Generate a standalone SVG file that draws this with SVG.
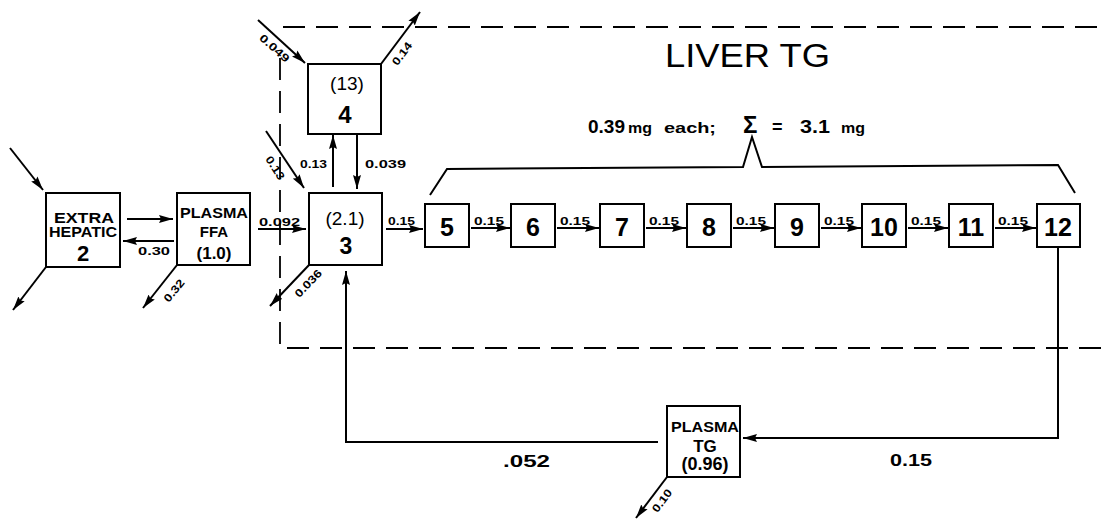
<svg xmlns="http://www.w3.org/2000/svg" width="1101" height="519" viewBox="0 0 1101 519">
<defs>
<style>
.box{fill:#fff;stroke:#000;stroke-width:2}
.ln{fill:none;stroke:#000;stroke-width:2}
.dash{fill:none;stroke:#000;stroke-width:1.8;stroke-dasharray:22 11}
text{font-family:"Liberation Sans",Arial,sans-serif;fill:#000}
.b{font-weight:bold}
.lbl{font-weight:bold;font-size:11px}
.big{font-weight:bold;font-size:25px;text-anchor:middle}
.mid{font-size:18px;text-anchor:middle}
.nm{font-weight:bold;font-size:14px;text-anchor:middle}
</style>
<marker id="ah" markerUnits="userSpaceOnUse" markerWidth="15" markerHeight="9" refX="14" refY="4.5" orient="auto">
<path d="M0,0.5 L14,4.5 L0,8.5 L2,4.5 z" fill="#000"/>
</marker>
</defs>
<rect width="1101" height="519" fill="#fff"/>

<g id="liver-region">
<path class="dash" d="M283,27 H1101"/>
<path class="dash" d="M280,58 V348 H1101"/>
<text x="665" y="67" font-size="33" textLength="165" lengthAdjust="spacingAndGlyphs">LIVER TG</text>
</g>

<g id="brace">
<path class="ln" d="M430,195 L447,169 L743,167 L752,137 L762,167 L1058,165 L1075,193"/>
<text class="b" y="133" font-size="18"><tspan x="588" textLength="37" lengthAdjust="spacingAndGlyphs">0.39</tspan><tspan x="628" font-size="15" textLength="24" lengthAdjust="spacingAndGlyphs">mg</tspan><tspan x="664" font-size="15" textLength="52" lengthAdjust="spacingAndGlyphs">each;</tspan><tspan x="743" font-size="24">Σ</tspan><tspan x="772">=</tspan><tspan x="800" textLength="30" lengthAdjust="spacingAndGlyphs">3.1</tspan><tspan x="841" font-size="15" textLength="24" lengthAdjust="spacingAndGlyphs">mg</tspan></text>
</g>

<g id="connectors">
<line class="ln" x1="10" y1="148" x2="43" y2="190" marker-end="url(#ah)"/>
<line class="ln" x1="46" y1="267" x2="13" y2="310" marker-end="url(#ah)"/>
<line class="ln" x1="127" y1="219" x2="173" y2="219" marker-end="url(#ah)"/>
<line class="ln" x1="174" y1="241" x2="123" y2="241" marker-end="url(#ah)"/>
<line class="ln" x1="177" y1="265" x2="143" y2="308" marker-end="url(#ah)"/>
<line class="ln" x1="258" y1="229" x2="306" y2="229" marker-end="url(#ah)"/>
<line class="ln" x1="266" y1="131" x2="304" y2="188" marker-end="url(#ah)"/>
<line class="ln" x1="309" y1="265" x2="270" y2="306" marker-end="url(#ah)"/>
<line class="ln" x1="333" y1="187" x2="333" y2="135" marker-end="url(#ah)"/>
<line class="ln" x1="357" y1="135" x2="357" y2="189" marker-end="url(#ah)"/>
<line class="ln" x1="258" y1="20" x2="305" y2="63" marker-end="url(#ah)"/>
<line class="ln" x1="381" y1="64" x2="420" y2="12" marker-end="url(#ah)"/>
<line class="ln" x1="386" y1="229" x2="423" y2="229" marker-end="url(#ah)"/>
<line class="ln" x1="471" y1="228" x2="510" y2="228" marker-end="url(#ah)"/>
<line class="ln" x1="557" y1="228" x2="599" y2="228" marker-end="url(#ah)"/>
<line class="ln" x1="646" y1="228" x2="686" y2="228" marker-end="url(#ah)"/>
<line class="ln" x1="733" y1="228" x2="774" y2="228" marker-end="url(#ah)"/>
<line class="ln" x1="821" y1="228" x2="861" y2="228" marker-end="url(#ah)"/>
<line class="ln" x1="908" y1="228" x2="948" y2="228" marker-end="url(#ah)"/>
<line class="ln" x1="995" y1="228" x2="1036" y2="228" marker-end="url(#ah)"/>
<path class="ln" d="M1058,247 V438 H743" marker-end="url(#ah)"/>
<path class="ln" d="M658,442 H346 V271" marker-end="url(#ah)"/>
<line class="ln" x1="667" y1="477" x2="636" y2="518" marker-end="url(#ah)"/>

<text class="lbl" x="138" y="255" textLength="32" lengthAdjust="spacingAndGlyphs">0.30</text>
<text class="lbl" x="259" y="226" textLength="41" lengthAdjust="spacingAndGlyphs">0.092</text>
<text class="lbl" x="300" y="168" textLength="27" lengthAdjust="spacingAndGlyphs">0.13</text>
<text class="lbl" x="365" y="168" textLength="41" lengthAdjust="spacingAndGlyphs">0.039</text>
<text class="lbl" x="388" y="225" textLength="27" lengthAdjust="spacingAndGlyphs">0.15</text>
<text class="lbl" x="474" y="225" textLength="30" lengthAdjust="spacingAndGlyphs">0.15</text>
<text class="lbl" x="560" y="225" textLength="30" lengthAdjust="spacingAndGlyphs">0.15</text>
<text class="lbl" x="649" y="225" textLength="30" lengthAdjust="spacingAndGlyphs">0.15</text>
<text class="lbl" x="736" y="225" textLength="30" lengthAdjust="spacingAndGlyphs">0.15</text>
<text class="lbl" x="824" y="225" textLength="30" lengthAdjust="spacingAndGlyphs">0.15</text>
<text class="lbl" x="911" y="225" textLength="30" lengthAdjust="spacingAndGlyphs">0.15</text>
<text class="lbl" x="998" y="225" textLength="30" lengthAdjust="spacingAndGlyphs">0.15</text>
<text class="lbl" text-anchor="middle" transform="translate(272,51) rotate(42)" textLength="36" lengthAdjust="spacingAndGlyphs">0.049</text>
<text class="lbl" text-anchor="middle" transform="translate(405,56) rotate(-53)" textLength="26" lengthAdjust="spacingAndGlyphs">0.14</text>
<text class="lbl" text-anchor="middle" transform="translate(272,170) rotate(57)" textLength="26" lengthAdjust="spacingAndGlyphs">0.13</text>
<text class="lbl" text-anchor="middle" transform="translate(311,286) rotate(-46)" textLength="34" lengthAdjust="spacingAndGlyphs">0.036</text>
<text class="lbl" text-anchor="middle" transform="translate(177,293) rotate(-51)" textLength="26" lengthAdjust="spacingAndGlyphs">0.32</text>
<text class="lbl" text-anchor="middle" transform="translate(665,503) rotate(-53)" textLength="26" lengthAdjust="spacingAndGlyphs">0.10</text>
<text class="b" x="503" y="467" font-size="17" textLength="47" lengthAdjust="spacingAndGlyphs">.052</text>
<text class="b" x="890" y="466" font-size="17" textLength="42" lengthAdjust="spacingAndGlyphs">0.15</text>
</g>

<g id="node-2">
<rect class="box" x="46" y="193" width="74" height="74"/>
<text class="nm" x="84" y="223" textLength="60" lengthAdjust="spacingAndGlyphs">EXTRA</text>
<text class="nm" x="83" y="237" textLength="68" lengthAdjust="spacingAndGlyphs">HEPATIC</text>
<text class="big" x="83" y="261" style="font-size:22px">2</text>
</g>

<g id="node-ffa">
<rect class="box" x="177" y="193" width="73" height="72"/>
<text class="nm" x="214" y="218" textLength="68" lengthAdjust="spacingAndGlyphs">PLASMA</text>
<text class="nm" x="214" y="237" style="font-size:15px">FFA</text>
<text class="mid b" x="214" y="259" style="font-size:17px">(1.0)</text>
</g>

<g id="node-4">
<rect class="box" x="308" y="64" width="73" height="70"/>
<text class="mid" x="347" y="90" style="font-size:19px">(13)</text>
<text class="big" x="345" y="123" style="font-size:24px">4</text>
</g>

<g id="node-3">
<rect class="box" x="309" y="193" width="73" height="72"/>
<text class="mid" x="345" y="225" style="font-size:19px">(2.1)</text>
<text class="big" x="346" y="254" style="font-size:23px">3</text>
</g>

<g id="node-5"><rect class="box" x="425" y="204" width="44" height="43"/><text class="big" x="447" y="236">5</text></g>
<g id="node-6"><rect class="box" x="511" y="204" width="44" height="43"/><text class="big" x="533" y="236">6</text></g>
<g id="node-7"><rect class="box" x="600" y="204" width="44" height="43"/><text class="big" x="622" y="236">7</text></g>
<g id="node-8"><rect class="box" x="687" y="204" width="44" height="43"/><text class="big" x="709" y="236">8</text></g>
<g id="node-9"><rect class="box" x="775" y="204" width="44" height="43"/><text class="big" x="797" y="236">9</text></g>
<g id="node-10"><rect class="box" x="862" y="204" width="44" height="43"/><text class="big" x="884" y="236">10</text></g>
<g id="node-11"><rect class="box" x="949" y="204" width="44" height="43"/><text class="big" x="971" y="236">11</text></g>
<g id="node-12"><rect class="box" x="1037" y="204" width="43" height="43"/><text class="big" x="1058" y="236">12</text></g>

<g id="node-plasma-tg">
<rect class="box" x="667" y="406" width="73" height="71"/>
<text class="nm" x="705" y="432" textLength="68" lengthAdjust="spacingAndGlyphs">PLASMA</text>
<text class="nm" x="705" y="452" style="font-size:17px">TG</text>
<text class="mid b" x="705" y="470">(0.96)</text>
</g>
</svg>
